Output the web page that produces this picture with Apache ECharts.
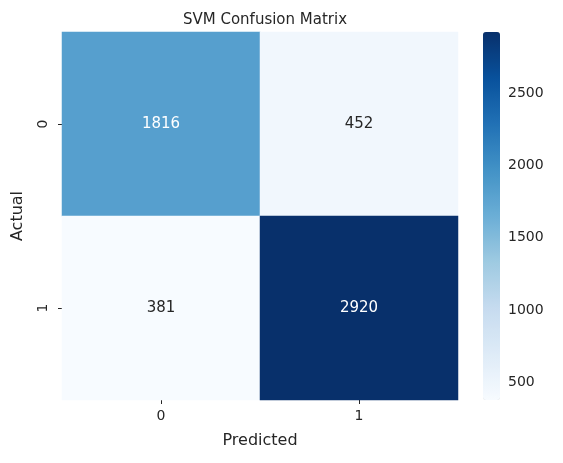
<!DOCTYPE html>
<html><head><meta charset="utf-8">
<script src="https://cdn.jsdelivr.net/npm/echarts@6/dist/echarts.min.js"></script>
<style>html,body{margin:0;padding:0;background:#fff}#c{width:563px;height:463px}</style>
</head><body><div id="c"></div>
<script>
const xCats = ['0','1'];
const yCats = ['1','0'];
const cells = [[0,1,1816],[1,1,452],[0,0,381],[1,0,2920]];
const cbTicks = [500,1000,1500,2000,2500];
const vMin = 381, vMax = 2920;
const blues = ['#f7fbff','#deebf7','#c6dbef','#9ecae1','#6baed6','#4292c6','#2171b5','#08519c','#08306b'];
const font = 'DejaVu Sans';
const chart = echarts.init(document.getElementById('c'));
chart.setOption({
  animation:false,
  textStyle:{fontFamily:font},
  title:{text:'SVM Confusion Matrix',left:260,top:8,textAlign:'center',textStyle:{fontSize:15,fontWeight:'normal',color:'#262626',fontFamily:font}},
  grid:[{left:62,top:32,width:396,height:368},{left:483,top:32,width:17,height:368}],
  xAxis:[{type:'category',data:xCats,gridIndex:0,name:'Predicted',nameLocation:'middle',nameGap:33,
    nameTextStyle:{fontSize:16,color:'#262626'},axisLine:{show:false},axisTick:{show:true,alignWithLabel:true,length:4,lineStyle:{color:'#262626'}},
    axisLabel:{fontSize:14,color:'#262626',margin:9},splitLine:{show:false}},
    {type:'value',gridIndex:1,show:false}],
  yAxis:[{type:'category',data:yCats,gridIndex:0,name:'Actual',nameLocation:'middle',nameGap:36,
    nameTextStyle:{fontSize:16,color:'#262626'},axisLine:{show:false},axisTick:{show:true,alignWithLabel:true,length:4,lineStyle:{color:'#262626'}},
    axisLabel:{fontSize:14,color:'#262626',rotate:90,margin:12},splitLine:{show:false}},
    {type:'value',gridIndex:1,position:'right',min:vMin,max:vMax,
     axisLine:{show:false},axisTick:{show:true,length:4,customValues:cbTicks,lineStyle:{color:'#262626'}},
     axisLabel:{fontSize:14,color:'#262626',margin:8,customValues:cbTicks,formatter:v=>String(v)},splitLine:{show:false}}],
  visualMap:{type:'continuous',min:vMin,max:vMax,seriesIndex:0,calculable:false,left:483,top:32,padding:0,
    itemWidth:17,itemHeight:368,text:['',''],showLabel:false,inRange:{color:blues}},
  series:[{type:'heatmap',xAxisIndex:0,yAxisIndex:0,
    data:cells.map(c=>({value:c,label:{color:c[2]>1500?'#ffffff':'#262626'}})),
    label:{show:true,fontSize:15,fontFamily:font}}]
});
</script></body></html>
